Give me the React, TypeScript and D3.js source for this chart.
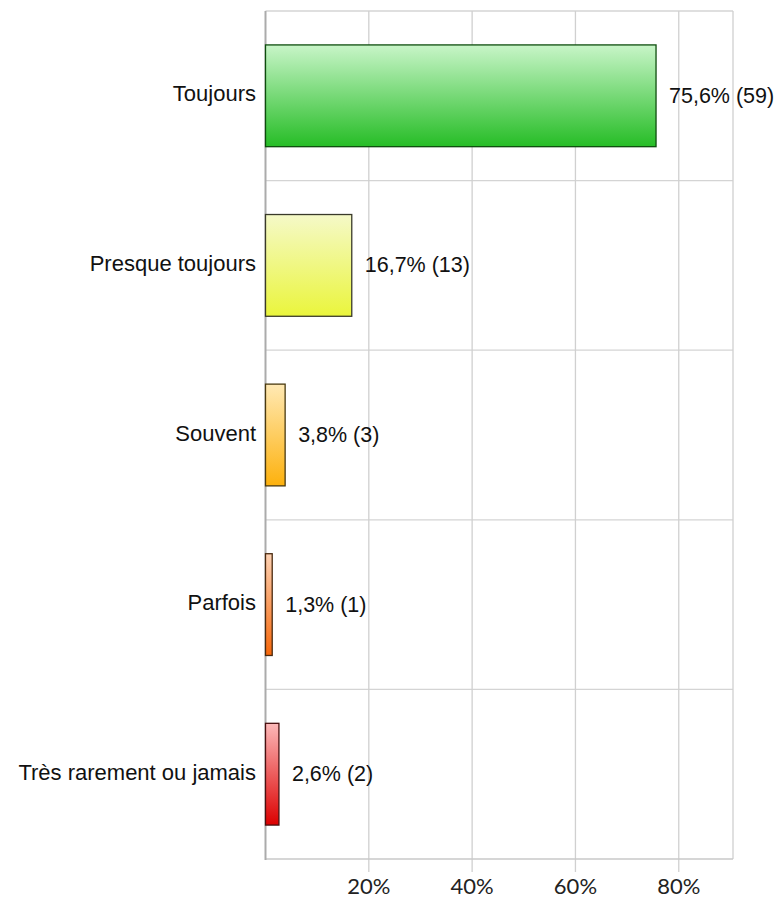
import React from "react";
import * as d3 from "d3";

const categories = ["Toujours", "Presque toujours", "Souvent", "Parfois", "Très rarement ou jamais"];
const percents = [75.6, 16.7, 3.8, 1.3, 2.6];
const counts = [59, 13, 3, 1, 2];
const valueLabels = ["75,6% (59)", "16,7% (13)", "3,8% (3)", "1,3% (1)", "2,6% (2)"];
const tickValues = [20, 40, 60, 80];
const tickLabels = ["20%", "40%", "60%", "80%"];
const gradTop = ["#c8f5c8", "#f5f9c8", "#ffe9b4", "#fdd2b4", "#fdb9b9"];
const gradBottom = ["#26bd26", "#eaf53c", "#fdb10d", "#f7670a", "#dc0000"];
const strokes = ["#0d4d0d", "#3a3a2a", "#4a3a10", "#4a2a10", "#4a1010"];

const W = 778;
const H = 899;
const left = 265.5;
const right = 733;
const top = 11;
const bottom = 859;

export default function App() {
  const x = d3.scaleLinear().domain([0, 90.5]).range([left, right]);
  const y = d3
    .scaleBand<string>()
    .domain(categories)
    .range([top, bottom])
    .paddingInner(0.4)
    .paddingOuter(0.2);
  const step = y.step();
  const rowLines = categories.slice(1).map((c) => (y(c) as number) - (step * 0.4) / 2);

  return (
    <svg
      width={W}
      height={H}
      style={{ position: "absolute", left: 0, top: 0 }}
      fontFamily="'Liberation Sans', Arial, sans-serif"
    >
      <defs>
        {categories.map((c, i) => (
          <linearGradient key={c} id={`g${i}`} x1="0" y1="0" x2="0" y2="1">
            <stop offset="0%" stopColor={gradTop[i]} />
            <stop offset="100%" stopColor={gradBottom[i]} />
          </linearGradient>
        ))}
      </defs>
      <rect x={0} y={0} width={W} height={H} fill="#fff" />
      <line x1={left} x2={right} y1={top} y2={top} stroke="#d4d4d4" strokeWidth={1.5} />
      {rowLines.map((ly, i) => (
        <line key={i} x1={left} x2={right} y1={ly} y2={ly} stroke="#d4d4d4" strokeWidth={1.3} />
      ))}
      {tickValues.map((t) => (
        <line key={t} x1={x(t)} x2={x(t)} y1={top} y2={bottom + 13} stroke="#d0d0d0" strokeWidth={1.3} />
      ))}
      <line x1={right} x2={right} y1={top} y2={bottom} stroke="#d0d0d0" strokeWidth={1.3} />
      <line x1={left} x2={right} y1={bottom} y2={bottom} stroke="#c8c8c8" strokeWidth={1.5} />
      <line x1={left} x2={left} y1={top} y2={bottom + 1} stroke="#ababab" strokeWidth={2} />
      {categories.map((c, i) => (
        <rect
          key={c}
          x={x(0)}
          y={y(c)}
          width={x(percents[i]) - x(0)}
          height={y.bandwidth()}
          fill={`url(#g${i})`}
          stroke={strokes[i]}
          strokeWidth={1.3}
        />
      ))}
      {categories.map((c) => (
        <text
          key={c}
          x={256}
          y={(y(c) as number) + y.bandwidth() / 2}
          dy="0.25em"
          textAnchor="end"
          fontSize={22}
          fill="#111"
        >
          {c}
        </text>
      ))}
      {categories.map((c, i) => (
        <text
          key={c}
          x={x(percents[i]) + 13}
          y={(y(c) as number) + y.bandwidth() / 2}
          dy="0.33em"
          fontSize={21.5}
          fill="#111"
          data-count={counts[i]}
        >
          {valueLabels[i]}
        </text>
      ))}
      {tickValues.map((t, i) => (
        <text
          key={t}
          x={x(t)}
          y={894}
          textAnchor="middle"
          fontSize={22}
          fontFamily="Lato, 'Open Sans', sans-serif"
          fill="#222"
        >
          {tickLabels[i]}
        </text>
      ))}
    </svg>
  );
}
